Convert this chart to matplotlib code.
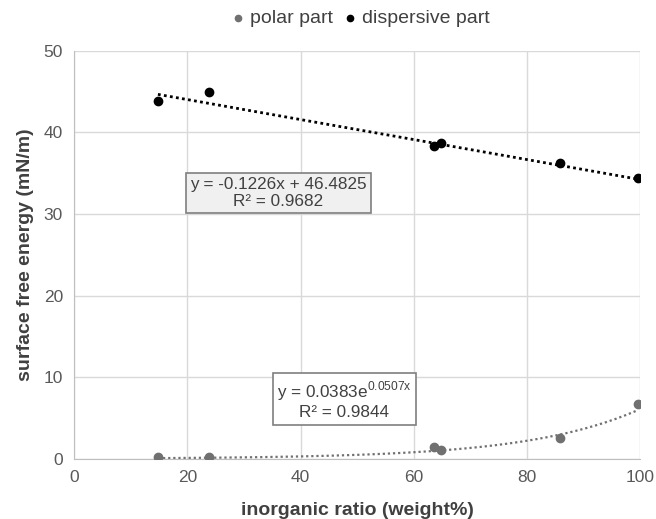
import numpy as np
import matplotlib.pyplot as plt

plt.rcParams['font.family'] = ['Liberation Sans', 'DejaVu Sans']
plt.rcParams['mathtext.fontset'] = 'custom'
plt.rcParams['mathtext.rm'] = 'Liberation Sans'

# ── Data ──────────────────────────────────────────────────────────────────────
ratio_wt = [14.8, 23.8, 63.6, 64.8, 85.8, 99.6]
polar_part = [0.2, 0.2, 1.4, 1.05, 2.6, 6.7]
dispersive_part = [43.9, 44.9, 38.3, 38.7, 36.2, 34.4]

# trendline coefficients as reported on the chart
lin_slope, lin_icept = -0.1226, 46.4825
exp_a, exp_b = 0.0383, 0.0507

COL_POLAR = '#707070'
COL_DISP = '#000000'
COL_TEXT = '#595959'
COL_GRID = '#d9d9d9'

fig = plt.figure(figsize=(6.56, 5.19), dpi=100)
ax = fig.add_axes([0.113, 0.116, 0.863, 0.786])

ax.scatter(ratio_wt, polar_part, s=36, color=COL_POLAR, zorder=3, label='polar part')
ax.scatter(ratio_wt, dispersive_part, s=36, color=COL_DISP, zorder=3, label='dispersive part')

xs = np.linspace(min(ratio_wt), max(ratio_wt), 200)
ax.plot(xs, lin_slope * xs + lin_icept, color=COL_DISP, lw=2, ls=(0, (1, 1.2)), zorder=2)
ax.plot(xs, exp_a * np.exp(exp_b * xs), color=COL_POLAR, lw=1.6, ls=(0, (1, 1.3)), zorder=2)

ax.set_xlim(0, 100)
ax.set_ylim(0, 50)
ax.set_xticks(range(0, 101, 20))
ax.set_yticks(range(0, 51, 10))
ax.grid(True, color=COL_GRID, lw=1)
ax.set_axisbelow(True)
for side in ['top', 'right']:
    ax.spines[side].set_visible(False)
for side in ['left', 'bottom']:
    ax.spines[side].set_color('#bfbfbf')
ax.tick_params(length=0, labelsize=12.5, colors=COL_TEXT, pad=8)

ax.set_xlabel('inorganic ratio (weight%)', fontsize=14, fontweight='bold', color='#404040', labelpad=12)
ax.set_ylabel('surface free energy (mN/m)', fontsize=14, fontweight='bold', color='#404040', labelpad=7)

ax.text(36.1, 32.6, 'y = -0.1226x + 46.4825\nR² = 0.9682', ha='center', va='center',
        fontsize=12.3, color='#404040', linespacing=1.15,
        bbox=dict(boxstyle='square,pad=0.25', fc='#f0f0f0', ec='#7f7f7f', lw=1.2))
ax.text(47.7, 7.2, 'y = 0.0383e$^{\\mathrm{0.0507x}}$\nR² = 0.9844', ha='center', va='center',
        fontsize=12.3, color='#404040', linespacing=1.15,
        bbox=dict(boxstyle='square,pad=0.25', fc='white', ec='#7f7f7f', lw=1.2))

fig.legend(loc='upper center', bbox_to_anchor=(0.55, 1.015), ncol=2, frameon=False,
           fontsize=14, labelcolor='#404040', handlelength=0.6, handletextpad=0.3,
           columnspacing=0.6, markerscale=0.75)

fig.savefig('out.png', dpi=100)
